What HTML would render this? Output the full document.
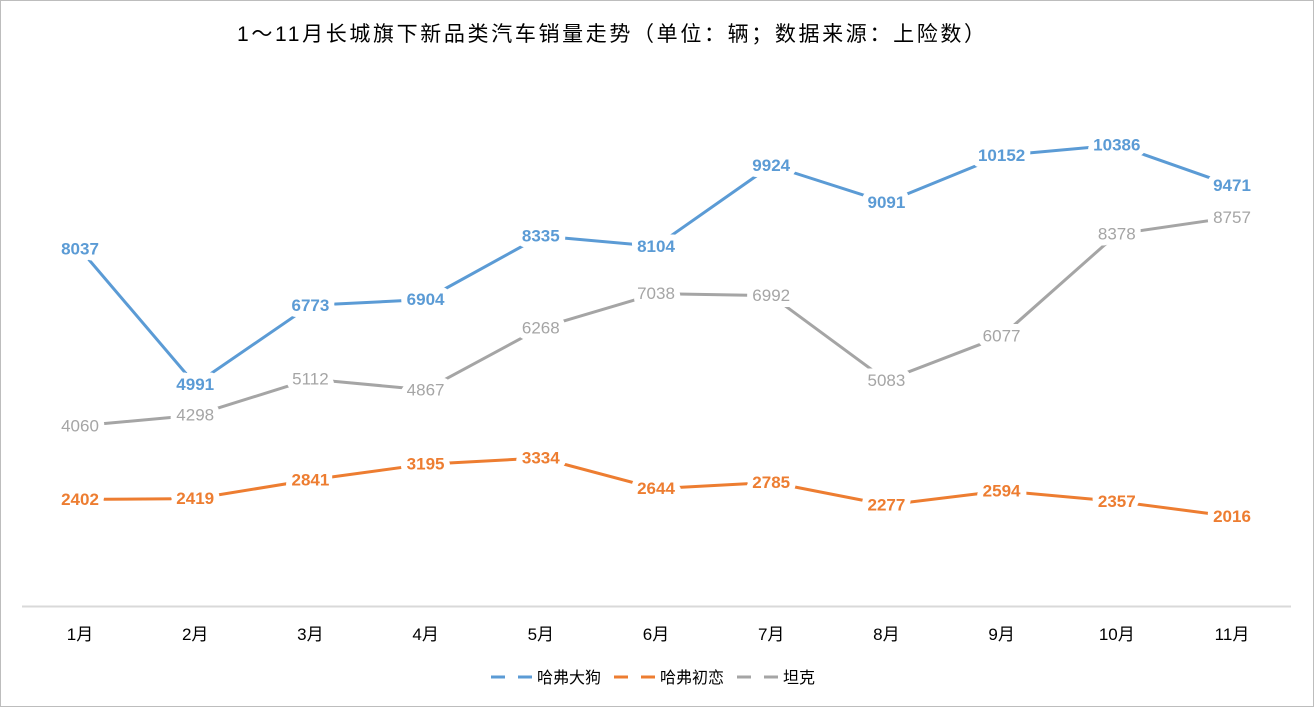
<!DOCTYPE html>
<html><head><meta charset="utf-8"><style>
body{margin:0;background:#fff;}
svg{display:block;font-family:"Liberation Sans","Noto Sans CJK SC",sans-serif;}
</style></head><body>
<svg width="1314" height="707" viewBox="0 0 1314 707">
<rect x="0.5" y="0.5" width="1313" height="706" fill="#fff" stroke="#bdbdbd"/>
<text x="237" y="41" font-size="21" textLength="748" lengthAdjust="spacing" fill="#000">1～11月长城旗下新品类汽车销量走势（单位：辆；数据来源：上险数）</text>
<line x1="22" y1="606.5" x2="1291" y2="606.5" stroke="#d9d9d9" stroke-width="2"/>
<g font-size="17" text-anchor="middle" fill="#000">
<text x="80" y="640">1月</text><text x="195.2" y="640">2月</text><text x="310.4" y="640">3月</text><text x="425.6" y="640">4月</text><text x="540.8" y="640">5月</text><text x="656" y="640">6月</text><text x="771.2" y="640">7月</text><text x="886.4" y="640">8月</text><text x="1001.6" y="640">9月</text><text x="1116.8" y="640">10月</text><text x="1232" y="640">11月</text>
</g>
<g fill="none" stroke-width="3" stroke-linejoin="round">
<polyline stroke="#5b9bd5" points="80,249.2 195.2,384.4 310.4,305.3 425.6,299.5 540.8,236 656,246.3 771.2,165.5 886.4,202.4 1001.6,155.4 1116.8,145 1232,185.6"/>
<polyline stroke="#ed7d31" points="80,499.4 195.2,498.6 310.4,479.9 425.6,464.2 540.8,458 656,488.6 771.2,482.4 886.4,504.9 1001.6,490.9 1116.8,501.4 1232,516.5"/>
<polyline stroke="#a5a5a5" points="80,425.8 195.2,415.2 310.4,379.1 425.6,389.9 540.8,327.8 656,293.6 771.2,295.6 886.4,380.4 1001.6,336.2 1116.8,234.1 1232,217.3"/>
</g>
<g font-size="17" text-anchor="middle" dominant-baseline="central" stroke="#fff" stroke-width="12" paint-order="stroke" stroke-linejoin="round">
<g fill="#5b9bd5" font-weight="bold">
<text x="80" y="249.2">8037</text><text x="195.2" y="384.4">4991</text><text x="310.4" y="305.3">6773</text><text x="425.6" y="299.5">6904</text><text x="540.8" y="236">8335</text><text x="656" y="246.3">8104</text><text x="771.2" y="165.5">9924</text><text x="886.4" y="202.4">9091</text><text x="1001.6" y="155.4">10152</text><text x="1116.8" y="145">10386</text><text x="1232" y="185.6">9471</text>
</g>
<g fill="#ed7d31" font-weight="bold">
<text x="80" y="499.4">2402</text><text x="195.2" y="498.6">2419</text><text x="310.4" y="479.9">2841</text><text x="425.6" y="464.2">3195</text><text x="540.8" y="458">3334</text><text x="656" y="488.6">2644</text><text x="771.2" y="482.4">2785</text><text x="886.4" y="504.9">2277</text><text x="1001.6" y="490.9">2594</text><text x="1116.8" y="501.4">2357</text><text x="1232" y="516.5">2016</text>
</g>
<g fill="#a5a5a5">
<text x="80" y="425.8">4060</text><text x="195.2" y="415.2">4298</text><text x="310.4" y="379.1">5112</text><text x="425.6" y="389.9">4867</text><text x="540.8" y="327.8">6268</text><text x="656" y="293.6">7038</text><text x="771.2" y="295.6">6992</text><text x="886.4" y="380.4">5083</text><text x="1001.6" y="336.2">6077</text><text x="1116.8" y="234.1">8378</text><text x="1232" y="217.3">8757</text>
</g>
</g>
<g stroke-width="3">
<line x1="491" y1="677" x2="505" y2="677" stroke="#5b9bd5"/><line x1="518" y1="677" x2="532" y2="677" stroke="#5b9bd5"/>
<line x1="614" y1="677" x2="628" y2="677" stroke="#ed7d31"/><line x1="641" y1="677" x2="655" y2="677" stroke="#ed7d31"/>
<line x1="737" y1="677" x2="751" y2="677" stroke="#a5a5a5"/><line x1="764" y1="677" x2="778" y2="677" stroke="#a5a5a5"/>
</g>
<g font-size="16" fill="#000">
<text x="537" y="683">哈弗大狗</text><text x="660" y="683">哈弗初恋</text><text x="783" y="683">坦克</text>
</g>
</svg>
</body></html>
